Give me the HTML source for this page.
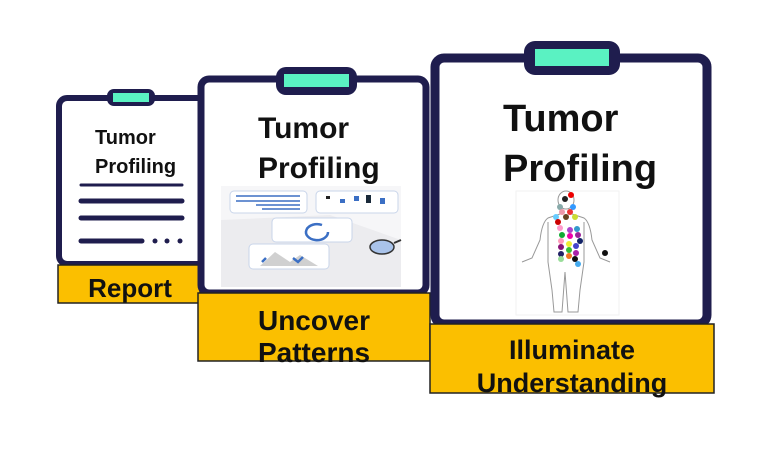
<!DOCTYPE html>
<html><head><meta charset="utf-8"><style>
html,body{margin:0;padding:0;background:#fff;}
body{width:772px;height:468px;overflow:hidden;position:relative;}
svg{position:absolute;left:0;top:0;}
text{font-family:"Liberation Sans",Arial,sans-serif;font-weight:bold;}
</style></head><body>
<svg width="772" height="468" viewBox="0 0 772 468">
<!-- Card 1 -->
<rect x="59" y="98" width="150" height="166" rx="8" fill="#fff" stroke="#1f1d4e" stroke-width="6"/>
<rect x="107" y="89" width="48" height="17" rx="7" fill="#1f1d4e"/>
<rect x="113" y="93" width="36" height="9" fill="#5af2c2"/>
<text x="95" y="144" font-size="20" fill="#111">Tumor</text>
<text x="95" y="173" font-size="20" fill="#111">Profiling</text>
<g stroke="#1f1d4e" stroke-width="5" stroke-linecap="round">
<line x1="81" y1="185" x2="182" y2="185" stroke-width="3"/>
<line x1="81" y1="201" x2="182" y2="201"/>
<line x1="81" y1="218" x2="182" y2="218"/>
<line x1="81" y1="241" x2="142" y2="241"/>
</g>
<g fill="#1f1d4e"><circle cx="155" cy="241" r="2.5"/><circle cx="167" cy="241" r="2.5"/><circle cx="180" cy="241" r="2.5"/></g>
<rect x="58" y="265" width="142" height="38" fill="#fbbf00" stroke="#222" stroke-width="1.5"/>
<text x="130" y="297" font-size="26" text-anchor="middle" fill="#111">Report</text>

<!-- Card 2 -->
<rect x="201" y="79" width="225" height="214" rx="8" fill="#fff" stroke="#1f1d4e" stroke-width="7"/>
<rect x="276" y="67" width="81" height="28" rx="10" fill="#1f1d4e"/>
<rect x="284" y="74" width="65" height="13" fill="#5af2c2"/>
<text x="258" y="138" font-size="30" fill="#111">Tumor</text>
<text x="258" y="178" font-size="30" fill="#111">Profiling</text>
<rect x="221" y="186" width="180" height="101" fill="#f6f6f8"/>
<path d="M221 220 L330 215 L401 240 L401 287 L221 287 Z" fill="#ececef"/>
<rect x="230" y="191" width="77" height="22" rx="4" fill="#fff" stroke="#c9d5ea"/>
<g stroke="#3b6fc4" stroke-width="1.5"><line x1="236" y1="196" x2="300" y2="196"/><line x1="236" y1="201" x2="300" y2="201"/><line x1="256" y1="205" x2="300" y2="205"/><line x1="262" y1="209" x2="300" y2="209"/></g>
<rect x="316" y="191" width="82" height="22" rx="4" fill="#fff" stroke="#c9d5ea"/>
<g fill="#3b6fc4"><rect x="326" y="196" width="4" height="3" fill="#222"/><rect x="340" y="199" width="5" height="4"/><rect x="354" y="196" width="5" height="5"/><rect x="366" y="195" width="5" height="8" fill="#1a2a3a"/><rect x="380" y="198" width="5" height="6"/></g>
<rect x="272" y="218" width="80" height="24" rx="4" fill="#fff" stroke="#c9d5ea"/>
<path d="M322 225 A11 8 0 1 0 328 232" fill="none" stroke="#3b6fc4" stroke-width="2.5"/>
<rect x="249" y="244" width="80" height="25" rx="4" fill="#fff" stroke="#c9d5ea"/>
<path d="M260 266 L275 252 L290 262 L300 255 L318 266 Z" fill="#d0d0d0"/>
<path d="M262 262 L266 258 M293 258 L298 262 L303 257" stroke="#3b6fc4" stroke-width="2.5" fill="none"/>
<ellipse cx="382" cy="247" rx="12" ry="7" fill="#a9c3ea" stroke="#333" stroke-width="1.5"/>
<line x1="394" y1="243" x2="401" y2="240" stroke="#333" stroke-width="2"/>
<rect x="198" y="293" width="232" height="68" fill="#fbbf00" stroke="#222" stroke-width="1.5"/>
<text x="314" y="330" font-size="28" text-anchor="middle" fill="#111">Uncover</text>
<text x="314" y="362" font-size="28" text-anchor="middle" fill="#111">Patterns</text>

<!-- Card 3 -->
<rect x="435" y="58" width="272" height="266" rx="9" fill="#fff" stroke="#1f1d4e" stroke-width="9"/>
<rect x="524" y="41" width="96" height="34" rx="11" fill="#1f1d4e"/>
<rect x="535" y="49" width="74" height="17" fill="#5af2c2"/>
<text x="503" y="131" font-size="38" fill="#111">Tumor</text>
<text x="503" y="181" font-size="38" fill="#111">Profiling</text>
<rect x="516" y="191" width="103" height="124" fill="#fff" stroke="#f2f2f2"/>
<g fill="none" stroke="#999" stroke-width="1">
<ellipse cx="566" cy="200" rx="8" ry="9"/>
<path d="M560 209 L560 214 L548 218 Q542 222 540 240 L532 258 L522 262 M572 209 L572 214 L584 218 Q590 222 592 240 L600 258 L610 262"/>
<path d="M548 222 L548 262 L552 290 L554 312 L562 312 L565 272 L568 312 L578 312 L580 290 L584 262 L584 222"/>
</g>
<g>
<circle cx="565" cy="199" r="3" fill="#222"/><circle cx="571" cy="195" r="3" fill="#e00"/>
<circle cx="560" cy="207" r="3" fill="#8aa"/><circle cx="573" cy="207" r="3" fill="#39f"/>
<circle cx="562" cy="212" r="3" fill="#e9a"/><circle cx="570" cy="212" r="3" fill="#e33"/>
<circle cx="556" cy="217" r="3" fill="#6cf"/><circle cx="566" cy="217" r="3" fill="#642"/><circle cx="575" cy="217" r="3" fill="#cd3"/>
<circle cx="558" cy="222" r="3" fill="#c00"/><circle cx="560" cy="228" r="3" fill="#f9c"/>
<circle cx="570" cy="230" r="3" fill="#a4c"/><circle cx="577" cy="229" r="3" fill="#39c"/>
<circle cx="562" cy="235" r="3" fill="#1a3"/><circle cx="570" cy="236" r="3" fill="#e0a"/><circle cx="578" cy="235" r="3" fill="#929"/>
<circle cx="561" cy="241" r="3" fill="#f9b"/><circle cx="580" cy="241" r="3" fill="#126"/>
<circle cx="569" cy="244" r="3" fill="#ee3"/><circle cx="561" cy="247" r="3" fill="#817"/><circle cx="576" cy="246" r="3" fill="#44c"/>
<circle cx="569" cy="250" r="3" fill="#3b3"/><circle cx="561" cy="254" r="3" fill="#226"/><circle cx="576" cy="253" r="3" fill="#a2a"/>
<circle cx="569" cy="256" r="3" fill="#e72"/><circle cx="561" cy="259" r="3" fill="#9d9"/><circle cx="575" cy="259" r="3" fill="#111"/>
<circle cx="578" cy="264" r="3" fill="#4ae"/><circle cx="605" cy="253" r="3" fill="#111"/>
</g>
<rect x="430" y="324" width="284" height="69" fill="#fbbf00" stroke="#222" stroke-width="1.5"/>
<text x="572" y="359" font-size="27" text-anchor="middle" fill="#111">Illuminate</text>
<text x="572" y="392" font-size="27" text-anchor="middle" fill="#111">Understanding</text>
</svg>
</body></html>
